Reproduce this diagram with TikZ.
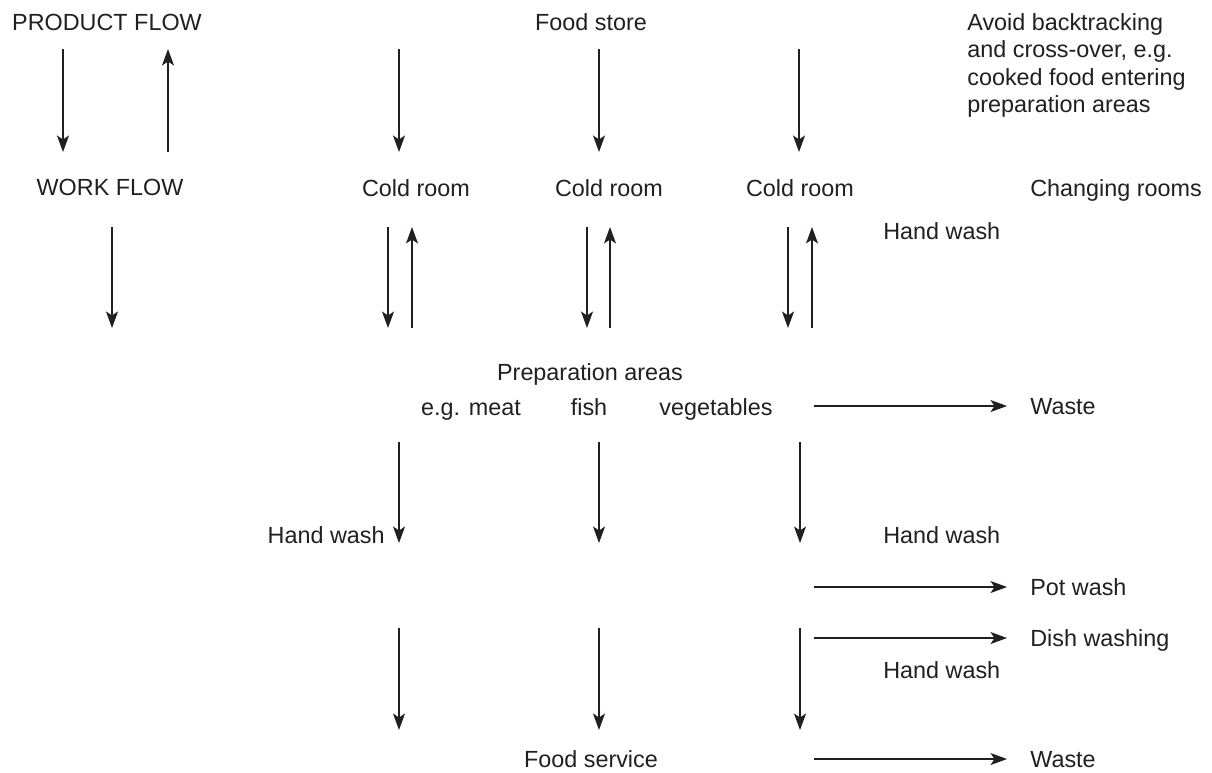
\documentclass[tikz,border=0pt]{standalone}
\usepackage{fontspec}
\setmainfont{Liberation Sans}
\usetikzlibrary{arrows.meta}
\definecolor{kitink}{HTML}{231F20}
\tikzset{
  kitlab/.style={font=\fontsize{13.3}{15.6}\selectfont, text=kitink, inner sep=0pt,
                 text height=9.2pt, text depth=0pt},
  kitnote/.style={font=\fontsize{13.3}{15.6}\selectfont, text=kitink, inner sep=0pt,
                  align=left, anchor=north west},
  kitflow/.style={draw=kitink, line width=0.6pt,
                  -{Stealth[length=3.3mm,width=2.4mm,inset=0.8mm]}},
}

\begin{document}
\begin{tikzpicture}[x=0.02cm, y=-0.02cm]
  \path[fill=white, use as bounding box] (0,0) rectangle (1212,772);

  % headings and rooms
  \node[kitlab] (prod) at (107,22) {PRODUCT FLOW};
  \node[kitlab] (work) at (110,187) {WORK FLOW};
  \node[kitlab] (store) at (591,22) {Food store};
  \node[kitnote] (avoid) at (967,13) {Avoid backtracking\\and cross-over, e.g.\\cooked food entering\\preparation areas};
  \node[kitlab] (cold1) at (416,188) {Cold room};
  \node[kitlab] (cold2) at (609,188) {Cold room};
  \node[kitlab] (cold3) at (800,188) {Cold room};
  \node[kitlab, anchor=west] (change) at (1030,188) {Changing rooms};
  \node[kitlab, anchor=west] (hwa) at (883,231) {Hand wash};

  % preparation
  \node[kitlab] (prep) at (590,372) {Preparation areas};
  \node[kitlab] (meat) at (471,407) {e.g. meat};
  \node[kitlab] (fish) at (589,407) {fish};
  \node[kitlab] (veg) at (716,407) {vegetables};
  \node[kitlab, anchor=west] (waste1) at (1030,406) {Waste};

  % washing and service
  \node[kitlab, anchor=east] (hwb) at (385,535) {Hand wash};
  \node[kitlab, anchor=west] (hwc) at (883,535) {Hand wash};
  \node[kitlab, anchor=west] (pot) at (1030,587) {Pot wash};
  \node[kitlab, anchor=west] (dish) at (1030,638) {Dish washing};
  \node[kitlab, anchor=west] (hwd) at (883,670) {Hand wash};
  \node[kitlab] (service) at (591,759) {Food service};
  \node[kitlab, anchor=west] (waste2) at (1030,759) {Waste};

  % vertical flows
  \foreach \n/\x/\ya/\yb in {pd/63/49/152, pu/168/152/49, wd/112/227/328,
      sa/399/49/152, sb/599/49/152, sc/799/49/152,
      ca/388/227/328, cb/587/227/328, cc/788/227/328,
      ra/412/328/227, rb/610/328/227, rc/812/328/227,
      ma/399/442/543, mb/599/442/543, mc/800/442/543,
      la/399/628/730, lb/599/628/730, lc/800/628/730} {
    \coordinate (\n s) at (\x,\ya);
    \coordinate (\n e) at (\x,\yb);
    \draw[kitflow] (\n s) -- (\n e);
  }

  % side flows
  \foreach \n/\y in {wa/406, po/587, di/638, wb/759} {
    \coordinate (\n s) at (814,\y);
    \coordinate (\n e) at (1007,\y);
    \draw[kitflow] (\n s) -- (\n e);
  }
\end{tikzpicture}
\end{document}
